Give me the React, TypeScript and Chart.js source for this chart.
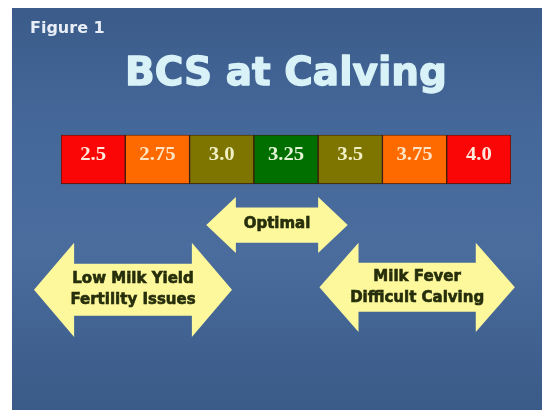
import React, { useEffect, useRef } from "react";
import { Chart, registerables } from "chart.js";

Chart.register(...registerables);

// ---- data ----
const figureLabel = "Figure 1";
const titleText = "BCS at Calving";
const bcsScores = ["2.5", "2.75", "3.0", "3.25", "3.5", "3.75", "4.0"];
const bcsValues = [2.5, 2.75, 3.0, 3.25, 3.5, 3.75, 4.0];
const cellSpan = [0, 1];
const arrowLabels = [["Optimal"], ["Low Milk Yield", "Fertility Issues"], ["Milk Fever", "Difficult Calving"]];
const arrowFrom = [2.94, 2.27, 3.38];
const arrowTo = [3.49, 3.04, 4.14];

// ---- styles ----
const cellColors = ["#fb0606", "#ff6a00", "#7e7500", "#006f00", "#7e7500", "#ff6a00", "#fb0606"];
const cellTextColors = ["#ffe9dc", "#ffe4c4", "#f1efc4", "#e3f3d4", "#f1efc4", "#ffe4c4", "#ffe9dc"];
const arrowStyle = {
  row: [1.84, 3.16, 3.11],
  headHalf: [0.57, 0.96, 0.91],
  shaftHalf: [0.36, 0.53, 0.5],
  headLen: [0.115, 0.156, 0.152],
  fill: "#fdf89c",
  text: "#262e0b",
  font: "bold 15px 'DejaVu Sans'",
  lineGap: 21,
};
const titleColor = "#d9f2f8";
const titleFont = { family: "'DejaVu Sans'", size: 39, weight: "bold" as const, lineHeight: 1.2 };
const titlePad = { top: 43, bottom: 37 };

const slidePlugin = {
  id: "slide",
  beforeDraw(chart: any) {
    const { ctx, width, height } = chart;
    ctx.save();
    const g = ctx.createLinearGradient(0, 0, 0, height);
    g.addColorStop(0, "#3b5c8a");
    g.addColorStop(0.3, "#45689a");
    g.addColorStop(0.6, "#4a6d9e");
    g.addColorStop(1, "#3a5a87");
    ctx.fillStyle = g;
    ctx.fillRect(0, 0, width, height);
    ctx.fillStyle = "#e8eef6";
    ctx.font = "bold 16px 'DejaVu Sans'";
    ctx.textBaseline = "middle";
    ctx.textAlign = "left";
    ctx.fillText(figureLabel, 18, 21);
    ctx.restore();
  },
  afterDraw(chart: any) {
    const tb = chart.titleBlock;
    if (!tb) return;
    const { ctx } = chart;
    ctx.save();
    ctx.font = `${titleFont.weight} ${titleFont.size}px ${titleFont.family}`;
    ctx.textAlign = "center";
    ctx.textBaseline = "middle";
    ctx.strokeStyle = titleColor;
    ctx.lineWidth = 1.3;
    ctx.lineJoin = "round";
    ctx.strokeText(titleText, tb.left + tb.width / 2, tb.top + titlePad.top + (titleFont.size * titleFont.lineHeight) / 2);
    ctx.restore();
  },
  afterDatasetsDraw(chart: any) {
    const { ctx } = chart;
    const xs = chart.scales.x;
    const ys = chart.scales.y;
    const step = bcsValues[1] - bcsValues[0];
    const px = (v: number) => xs.getPixelForValue((v - bcsValues[0]) / step);
    const meta = chart.getDatasetMeta(0);
    ctx.save();
    // cell labels
    meta.data.forEach((el: any, i: number) => {
      const cy = (el.y + el.base) / 2 - 4;
      ctx.save();
      ctx.translate(el.x, cy);
      ctx.scale(1.15, 1);
      ctx.fillStyle = cellTextColors[i];
      ctx.font = "bold 18px 'Liberation Serif'";
      ctx.textAlign = "center";
      ctx.textBaseline = "middle";
      ctx.fillText(bcsScores[i], 0, 0);
      ctx.restore();
    });
    // arrows
    arrowLabels.forEach((lines, i) => {
      const x0 = px(arrowFrom[i]);
      const x1 = px(arrowTo[i]);
      const hl = px(arrowFrom[i] + arrowStyle.headLen[i]) - x0;
      const yc = ys.getPixelForValue(arrowStyle.row[i]);
      const hh = Math.abs(ys.getPixelForValue(arrowStyle.row[i] + arrowStyle.headHalf[i]) - yc);
      const sh = Math.abs(ys.getPixelForValue(arrowStyle.row[i] + arrowStyle.shaftHalf[i]) - yc);
      ctx.beginPath();
      ctx.moveTo(x0, yc);
      ctx.lineTo(x0 + hl, yc - hh);
      ctx.lineTo(x0 + hl, yc - sh);
      ctx.lineTo(x1 - hl, yc - sh);
      ctx.lineTo(x1 - hl, yc - hh);
      ctx.lineTo(x1, yc);
      ctx.lineTo(x1 - hl, yc + hh);
      ctx.lineTo(x1 - hl, yc + sh);
      ctx.lineTo(x0 + hl, yc + sh);
      ctx.lineTo(x0 + hl, yc + hh);
      ctx.closePath();
      ctx.fillStyle = arrowStyle.fill;
      ctx.fill();
      ctx.fillStyle = arrowStyle.text;
      ctx.strokeStyle = arrowStyle.text;
      ctx.lineWidth = 0.6;
      ctx.font = arrowStyle.font;
      ctx.textAlign = "center";
      ctx.textBaseline = "middle";
      const cx = (x0 + x1) / 2;
      lines.forEach((t, j) => {
        const dy = (j - (lines.length - 1) / 2) * arrowStyle.lineGap;
        ctx.fillText(t, cx, yc + dy - (lines.length === 1 ? 1 : 0));
        ctx.strokeText(t, cx, yc + dy - (lines.length === 1 ? 1 : 0));
      });
    });
    ctx.restore();
  },
};

export default function App() {
  const ref = useRef<HTMLCanvasElement>(null);
  useEffect(() => {
    if (!ref.current) return;
    const chart = new Chart(ref.current, {
      type: "bar",
      data: {
        labels: bcsScores,
        datasets: [
          {
            data: bcsScores.map(() => cellSpan as any),
            backgroundColor: cellColors,
            borderColor: "#3a1a0c",
            borderWidth: 1,
            borderSkipped: false,
            categoryPercentage: 1,
            barPercentage: 1,
          },
        ],
      },
      options: {
        responsive: false,
        animation: false,
        devicePixelRatio: 1,
        layout: { padding: { left: 49, right: 31, top: 0, bottom: 79 } },
        scales: {
          x: { type: "category", display: false, offset: true, grid: { display: false } },
          y: { type: "linear", display: false, min: 0, max: 4, reverse: true },
        },
        plugins: {
          legend: { display: false },
          tooltip: { enabled: false },
          title: {
            display: true,
            text: titleText,
            fullSize: false,
            color: titleColor,
            font: titleFont,
            padding: titlePad,
          },
        },
      },
      plugins: [slidePlugin],
    });
    return () => chart.destroy();
  }, []);
  return (
    <div style={{ position: "fixed", left: 12, top: 8, width: 530, height: 402 }}>
      <canvas ref={ref} width={530} height={402} style={{ display: "block" }} />
    </div>
  );
}
